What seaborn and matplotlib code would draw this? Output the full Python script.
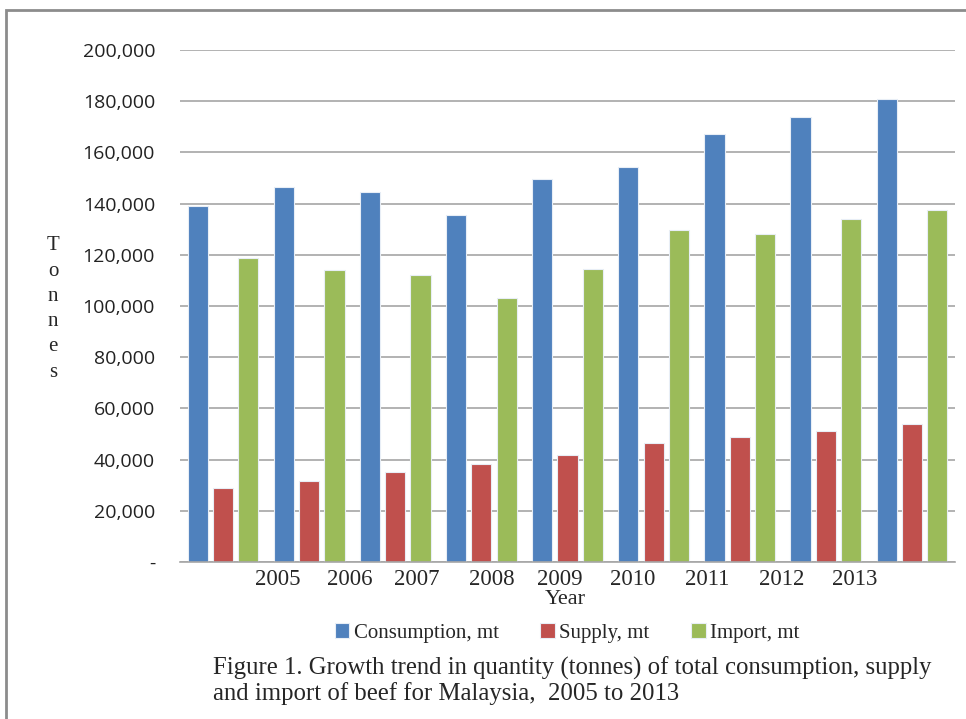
import matplotlib
matplotlib.use("Agg")
import matplotlib.pyplot as plt
import seaborn as sns
import pandas as pd
from matplotlib.patches import Rectangle
from matplotlib.ticker import FuncFormatter

years = ['2005', '2006', '2007', '2008', '2009', '2010', '2011', '2012', '2013']
consumption = [139000, 146500, 144400, 135500, 149500, 154400, 167300, 173700, 180900]
supply = [28900, 31600, 35100, 38300, 41900, 46400, 48800, 51300, 53900]
imports = [118600, 114100, 112100, 103300, 114600, 129700, 128000, 134000, 137600]
series_names = ['Consumption, mt', 'Supply, mt', 'Import, mt']
colors = ['#4F81BD', '#C0504D', '#9BBB59']

# the year labels in the original sit off the group centres
label_pos = [0.63, 1.47, 2.25, 3.12, 3.91, 4.76, 5.62, 6.49, 7.33]

df = pd.DataFrame({
    'Year': years * 3,
    'Tonnes': consumption + supply + imports,
    'Series': [s for s in series_names for _ in years],
})

sns.set_style('white')
serif = ['Liberation Serif', 'DejaVu Serif']
sans = ['Open Sans', 'DejaVu Sans']

fig = plt.figure(figsize=(9.66, 7.19), dpi=100)
ax = fig.add_axes([180 / 966, 1 - 562 / 719, 775 / 966, 512 / 719])

sns.barplot(data=df, x='Year', y='Tonnes', hue='Series', palette=colors,
            saturation=1, width=0.88, gap=0.2, edgecolor='#e8eef6',
            linewidth=0.8, ax=ax, legend=True)

ax.set_ylim(0, 200000)
ax.set_xlim(-0.5, len(years) - 0.5)
ax.set_yticks(range(0, 200001, 20000))
ax.yaxis.set_major_formatter(FuncFormatter(lambda v, p: '-' if v == 0 else f'{int(v):,}'))
for lab in ax.get_yticklabels():
    lab.set_fontfamily(sans)
    lab.set_fontsize(14)
    lab.set_color('#222222')
ax.tick_params(axis='y', length=0, pad=18)

ax.set_xticks(label_pos)
ax.set_xticklabels(years, fontfamily=serif, fontsize=16.5)
ax.tick_params(axis='x', length=0, pad=5)

ax.grid(axis='y', color='#a6a6a6', linewidth=1.2)
ax.set_axisbelow(True)
for side in ['top', 'right', 'left']:
    ax.spines[side].set_visible(False)
ax.spines['bottom'].set_color('#a6a6a6')
ax.spines['bottom'].set_linewidth(1.2)

ax.set_xlabel('')
ax.set_ylabel('')
fig.text(565 / 966, 1 - 599 / 719, 'Year', ha='center', va='center',
         family=serif, fontsize=16)
fig.text(53 / 966, 1 - 309 / 719, 'T\no\nn\nn\ne\ns', ha='center', va='center',
         family=serif, fontsize=15, linespacing=1.45)

handles, labels = ax.get_legend_handles_labels()
ax.get_legend().remove()
fig.legend(handles, labels, loc='center', bbox_to_anchor=(567 / 966, 1 - 633 / 719),
           ncol=3, frameon=False, prop={'family': serif, 'size': 15},
           handlelength=0.7, handleheight=0.7, handletextpad=0.2, columnspacing=2.0)

fig.text(213 / 966, 1 - 668 / 719,
         'Figure 1. Growth trend in quantity (tonnes) of total consumption, supply',
         ha='left', va='center', family=serif, fontsize=17.8)
fig.text(213 / 966, 1 - 694 / 719,
         'and import of beef for Malaysia,  2005 to 2013',
         ha='left', va='center', family=serif, fontsize=17.8)

# page frame: only the top and left edges fall inside the image
fig.patches.append(Rectangle((6 / 966, -0.05), 1.2, 1 - 10 / 719 + 0.05,
                             transform=fig.transFigure, fill=False,
                             edgecolor='#8c8c8c', linewidth=2))

fig.savefig('out.png', dpi=100)
